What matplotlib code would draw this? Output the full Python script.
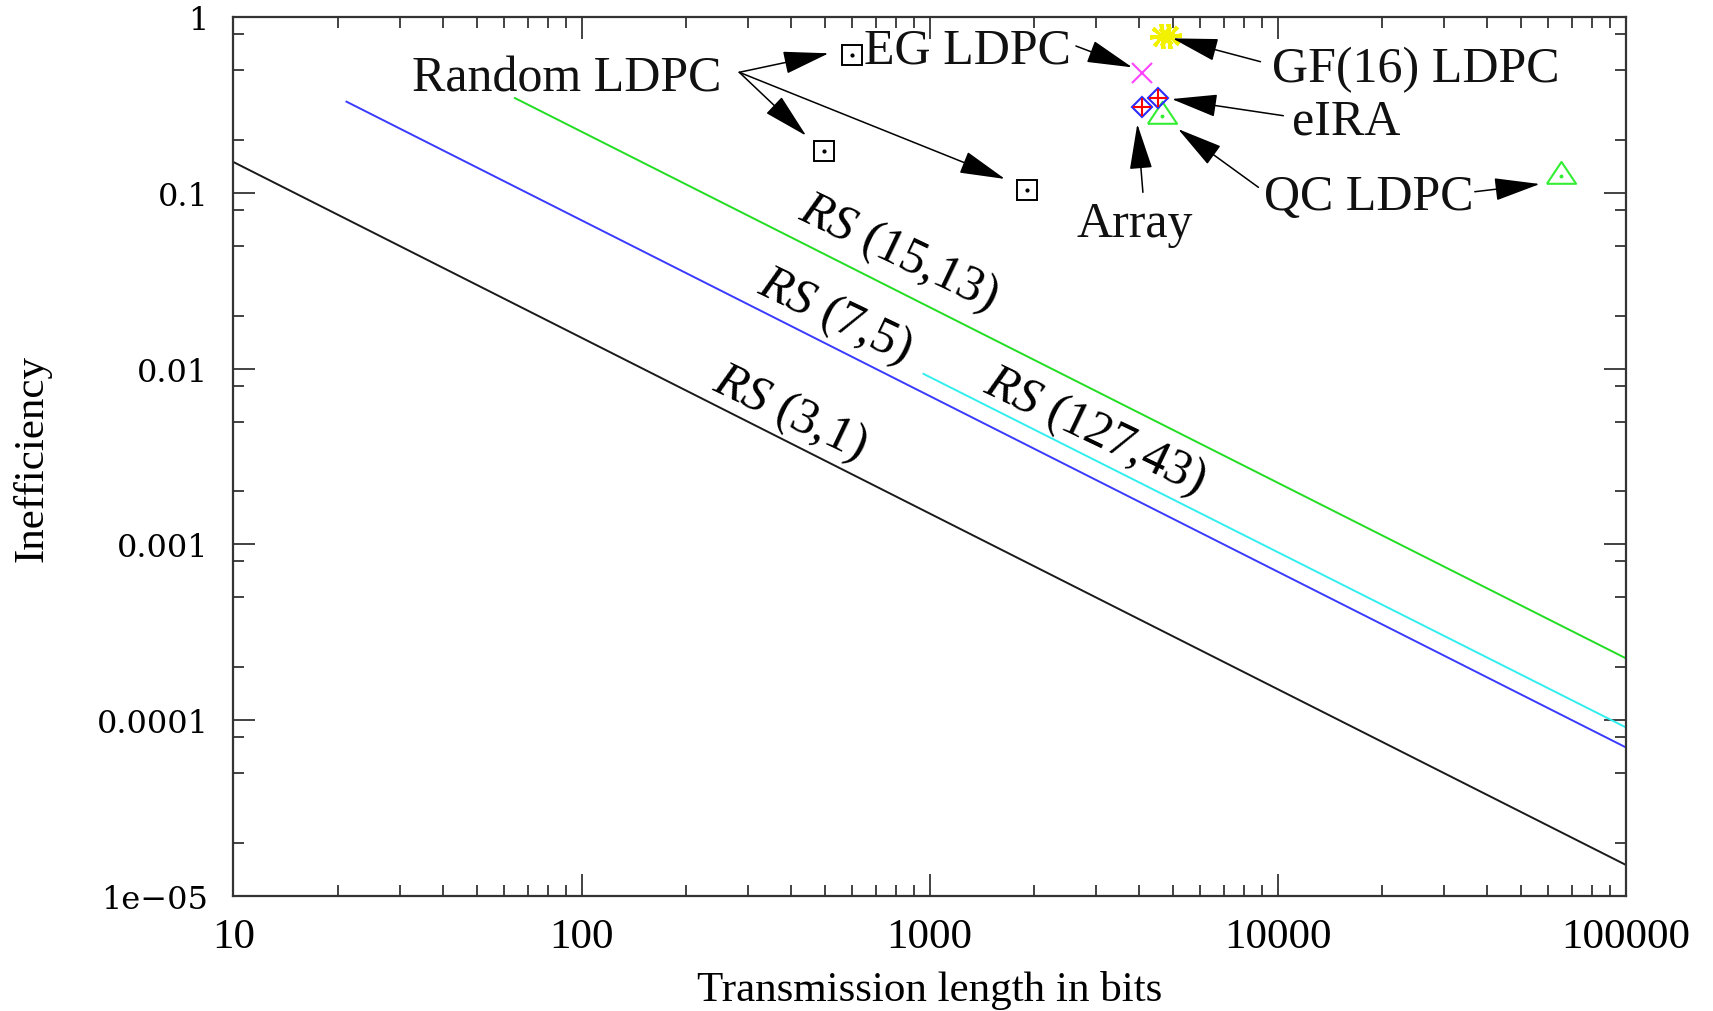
import matplotlib
matplotlib.use("Agg")
import matplotlib.pyplot as plt
from matplotlib.ticker import FixedLocator, NullFormatter

plt.rcParams['mathtext.fontset'] = 'custom'
plt.rcParams['mathtext.it'] = 'Liberation Serif:italic'
plt.rcParams['mathtext.rm'] = 'Liberation Serif'

# ---------------- data ----------------
rs_labels = [r"$RS$ (3,1)", r"$RS$ (7,5)", r"$RS$ (15,13)", r"$RS$ (127,43)"]
rs_colors = ["#1a1a1a", "#3a3aff", "#22dd22", "#33eeee"]
rs_n = [[10, 1e5], [21, 1e5], [64, 1e5], [955, 1e5]]
rs_ineff = [[0.15, 1.5e-5], [0.333, 7.0e-5], [0.349, 2.25e-4], [0.0094, 9.1e-5]]
rs_label_n = [397, 535, 813, 2985]
rs_label_ineff = [0.00565, 0.0200, 0.046, 0.00444]

random_n = [598, 498, 1909]
random_ineff = [0.610, 0.1727, 0.1044]
eg_n = [4074]
eg_ineff = [0.482]
gf16_n = [4665, 4885]
gf16_ineff = [0.778, 0.778]
eira_n = [4539]
eira_ineff = [0.346]
array_n = [4074]
array_ineff = [0.307]
qc_n = [4645, 65300]
qc_ineff = [0.275, 0.1255]

x_ticks = [10, 100, 1000, 10000, 100000]
x_ticklabels = ["10", "100", "1000", "10000", "100000"]
y_ticks = [1e-5, 1e-4, 1e-3, 1e-2, 1e-1, 1]
y_ticklabels = ["1e\u221205", "0.0001", "0.001", "0.01", "0.1", "1"]

# annotation texts: (text, x, y) and arrows (tail -> tip)
notes = [
    ("Random LDPC", 90.5, 0.3857),
    ("EG LDPC", 1281, 0.5545),
    ("GF(16) LDPC", 24980, 0.4355),
    ("eIRA", 15780, 0.2168),
    ("Array", 3879, 0.0569),
    ("QC LDPC", 18240, 0.0811),
]
arrows = [
    ((284, 0.4864), (513, 0.624)),
    ((284, 0.4864), (442, 0.2119)),
    ((284, 0.4864), (1647, 0.1202)),
    ((2634, 0.6866), (3823, 0.519)),
    ((8930, 0.559), (4990, 0.759)),
    ((10390, 0.2754), (4962, 0.3427)),
    ((4102, 0.1009), (3953, 0.247)),
    ((8810, 0.1077), (5176, 0.2313)),
    ((36860, 0.1017), (56690, 0.1125)),
]

# ---------------- figure ----------------
fig = plt.figure(figsize=(17.13, 10.12), dpi=100)
ax = fig.add_axes([0.1363, 0.1139, 0.8127, 0.868])
ax.set_xscale("log")
ax.set_yscale("log")
ax.set_xlim(10, 1e5)
ax.set_ylim(1e-5, 1)

for xs, ys, c in zip(rs_n, rs_ineff, rs_colors):
    ax.plot(xs, ys, color=c, lw=1.4, solid_capstyle="butt")

for lab, xl, yl in zip(rs_labels, rs_label_n, rs_label_ineff):
    ax.text(xl, yl, lab, fontsize=36, family="Liberation Serif", rotation=-25.5,
            ha="center", va="center", rotation_mode="anchor")

# markers
ax.plot(random_n, random_ineff, ls="none", marker="s", ms=15, mfc="white",
        mec="black", mew=1.4)
ax.plot(random_n, random_ineff, ls="none", marker="o", ms=2, color="black")
ax.plot(eg_n, eg_ineff, ls="none", marker="x", ms=15, mew=1.5, color="#ff44ff")
ax.plot(gf16_n, gf16_ineff, ls="none", marker=(8, 2, 0), ms=18, mew=1.5, color="#f2f200")
ax.plot(gf16_n, gf16_ineff, ls="none", marker=(8, 2, 11), ms=18, mew=1.2, color="#f2f200")
tri = [(-1, -0.5), (1, -0.5), (0, 1), (-1, -0.5)]
ax.plot(qc_n, qc_ineff, ls="none", marker=tri, ms=21, mfc="none", mec="#33ee33", mew=1.5)
ax.plot(qc_n, qc_ineff, ls="none", marker="o", ms=1.8, color="#33ee33")
for xs, ys in ((array_n, array_ineff), (eira_n, eira_ineff)):
    ax.plot(xs, ys, ls="none", marker="D", ms=10, mfc="none", mec="#2a2aff", mew=1.5)
    ax.plot(xs, ys, ls="none", marker="+", ms=13, mew=1.5, color="#ff0000")

for txt, xt, yt in notes:
    ax.text(xt, yt, txt, fontsize=36, family="Liberation Serif", ha="center",
            va="baseline", color="#111111")

for tail, tip in arrows:
    ax.annotate("", xy=tip, xytext=tail,
                arrowprops=dict(arrowstyle="-|>,head_length=2.9,head_width=0.72",
                                mutation_scale=10, color="black", lw=1.1,
                                shrinkA=0, shrinkB=0))

# ticks
ax.xaxis.set_major_locator(FixedLocator(x_ticks))
ax.set_xticklabels(x_ticklabels, family="Liberation Serif", fontsize=31)
x_minor = [m * d for d in (10, 100, 1000, 10000) for m in range(2, 10)]
ax.xaxis.set_minor_locator(FixedLocator(x_minor))
ax.xaxis.set_minor_formatter(NullFormatter())

ax.yaxis.set_major_locator(FixedLocator(y_ticks))
ax.set_yticklabels(y_ticklabels, family="DejaVu Serif", fontsize=23)
y_minor = [m * d for d in (1e-5, 1e-4, 1e-3, 1e-2, 1e-1) for m in (2, 5, 8)]
ax.yaxis.set_minor_locator(FixedLocator(y_minor))
ax.yaxis.set_minor_formatter(NullFormatter())

ax.tick_params(which="both", direction="in", top=True, right=True, color="#222222")
ax.tick_params(which="major", length=16, width=1.2)
ax.tick_params(which="minor", length=8, width=1.2)
ax.tick_params(axis="x", which="major", pad=16)
ax.tick_params(axis="y", which="major", pad=18)

for sp in ax.spines.values():
    sp.set_linewidth(1.6)
    sp.set_color("#333333")

ax.set_xlabel("Transmission length in bits", family="Liberation Serif", fontsize=31)
ax.xaxis.set_label_coords(0.5, -0.084)
fig.text(32 / 1713, 1 - 458 / 1012, "Inefficiency", family="Liberation Serif",
         fontsize=31, rotation=90, ha="center", va="center")

fig.savefig("out.png", dpi=100, facecolor="white")
